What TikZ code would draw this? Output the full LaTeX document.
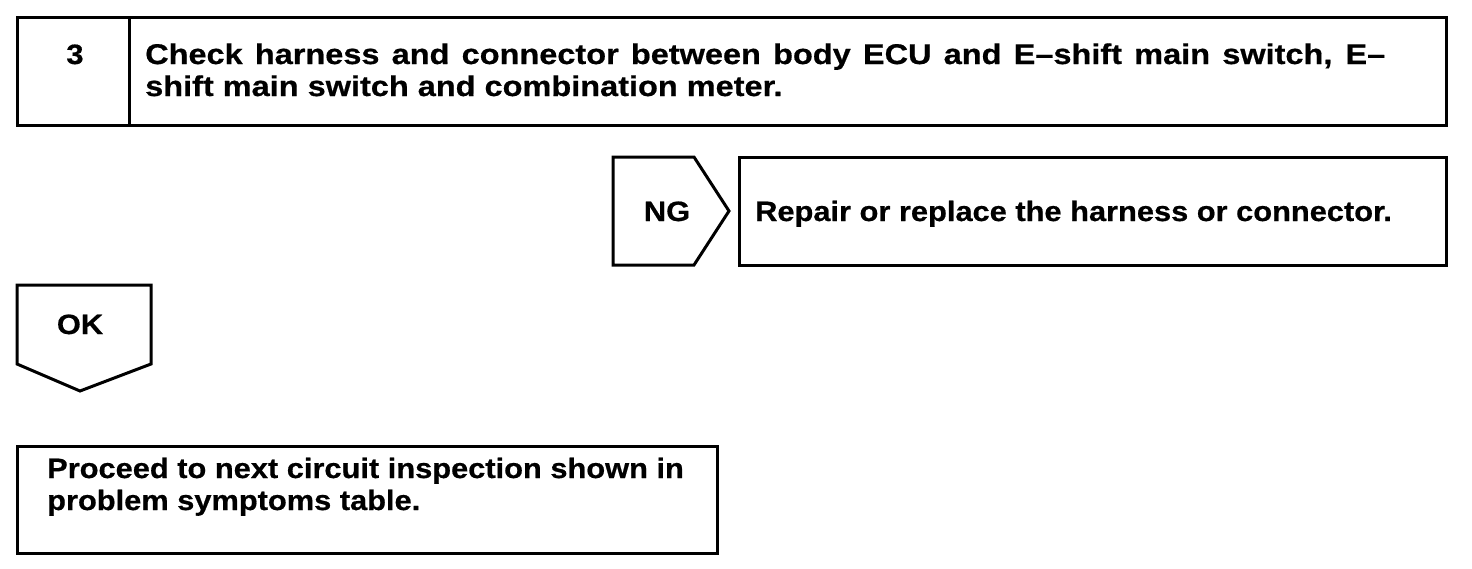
\documentclass[tikz,border=0pt]{standalone}
\usepackage{fontspec}
\setmainfont{Liberation Sans}
\newfontfamily\widefont[FakeStretch=1.10,FakeBold=0.6]{Liberation Sans Bold}
\newfontfamily\topfont[FakeStretch=1.14,FakeBold=0.6]{Liberation Sans Bold}
\begin{document}
\begin{tikzpicture}[x=1pt,y=-1pt,
  frame/.style={draw=black,line width=3pt,line join=miter},
  txt/.style={font=\widefont\fontsize{28}{32}\selectfont,inner sep=0pt,align=left},
  toptxt/.style={font=\topfont\fontsize{28.5}{32}\selectfont,inner sep=0pt,align=left},
  lbl/.style={font=\widefont\fontsize{28}{32}\selectfont,inner sep=0pt}]
\useasboundingbox (0,0) rectangle (1472,568);
% top box
\draw[frame] (17,17) rectangle (1446,125);
\draw[frame] (129,17) -- (129,125);
\node[lbl,anchor=base] (num) at (75,64) {3};
\node[toptxt,anchor=base west] (check) at (145,64) {\makebox[1240pt][s]{Check harness and connector between body ECU and E–shift main switch, E–}};
\node[toptxt,anchor=base west] (check2) at (145,96) {shift main switch and combination meter.};
% NG
\draw[frame] (613,157) -- (694,157) -- (729,211) -- (694,265) -- (613,265) -- cycle;
\node[lbl,anchor=base] (ng) at (667,221) {NG};
\draw[frame] (739,157) rectangle (1446,265);
\node[txt,anchor=base west] (repair) at (755,221) {Repair or replace the harness or connector.};
% OK
\draw[frame] (17,285) -- (151,285) -- (151,364) -- (80,391) -- (17,364) -- cycle;
\node[lbl,anchor=base] (ok) at (80,334) {OK};
% bottom box
\draw[frame] (17,446) rectangle (717,553);
\node[txt,anchor=base west] (proceed) at (47,478) {Proceed to next circuit inspection shown in};
\node[txt,anchor=base west] (proceed2) at (47,510) {problem symptoms table.};
\end{tikzpicture}
\end{document}
